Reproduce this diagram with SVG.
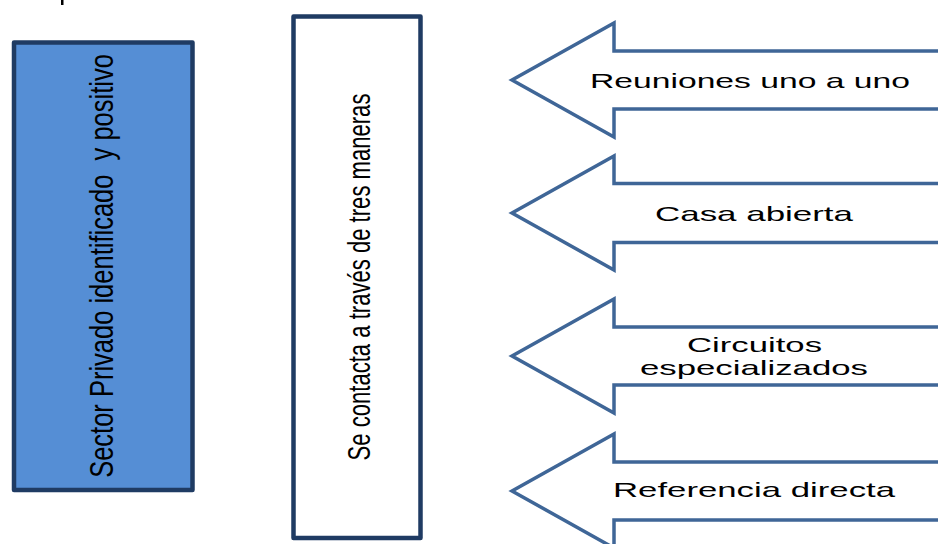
<svg xmlns="http://www.w3.org/2000/svg" width="938" height="544" viewBox="0 0 938 544">
<style>
.box{stroke:#1F3B63;stroke-width:4.5;stroke-linejoin:round}
.arrow{fill:#FFFFFF;stroke:#3F6697;stroke-width:3.5;stroke-linejoin:miter}
.vt{font-family:"Liberation Sans",Arial,sans-serif;fill:#000000;text-anchor:middle;white-space:pre}
.lbl{font-family:"Liberation Sans",Arial,sans-serif;font-size:21px;fill:#000000;text-anchor:middle}
</style>
<rect x="0" y="0" width="938" height="544" fill="#FFFFFF"/>
<rect x="61" y="0" width="2.5" height="5" fill="#000000"/>
<g id="sector-privado">
<rect class="box" x="14" y="42.5" width="178.5" height="447.5" fill="#558ED5"/>
<text class="vt" font-size="34" xml:space="preserve" transform="translate(113,266) rotate(-90) scale(0.75,1)">Sector Privado identificado  y positivo</text>
</g>
<g id="se-contacta">
<rect class="box" x="293.5" y="16.5" width="127" height="521.5" fill="#FFFFFF"/>
<text class="vt" font-size="32" transform="translate(370,277) rotate(-90) scale(0.69,1)">Se contacta a través de tres maneras</text>
</g>
<g id="reuniones">
<path class="arrow" d="M945,51 H614 V23 L512,80 L614,137 V109 H945"/>
<text class="lbl" x="750" y="88" textLength="320" lengthAdjust="spacingAndGlyphs">Reuniones uno a uno</text>
</g>
<g id="casa-abierta">
<path class="arrow" d="M945,183.5 H614 V156 L512,213 L614,270 V242.5 H945"/>
<text class="lbl" x="754" y="221" textLength="198" lengthAdjust="spacingAndGlyphs">Casa abierta</text>
</g>
<g id="circuitos">
<path class="arrow" d="M945,327 H614 V299 L512,356 L614,413 V385 H945"/>
<text class="lbl" x="754.5" y="352" textLength="135" lengthAdjust="spacingAndGlyphs">Circuitos</text>
<text class="lbl" x="754" y="375" textLength="228" lengthAdjust="spacingAndGlyphs">especializados</text>
</g>
<g id="referencia">
<path class="arrow" d="M945,462 H614 V434 L512,491 L614,548 V520 H945"/>
<text class="lbl" x="754" y="497" textLength="282" lengthAdjust="spacingAndGlyphs">Referencia directa</text>
</g>
<g id="connectors"></g>
</svg>
